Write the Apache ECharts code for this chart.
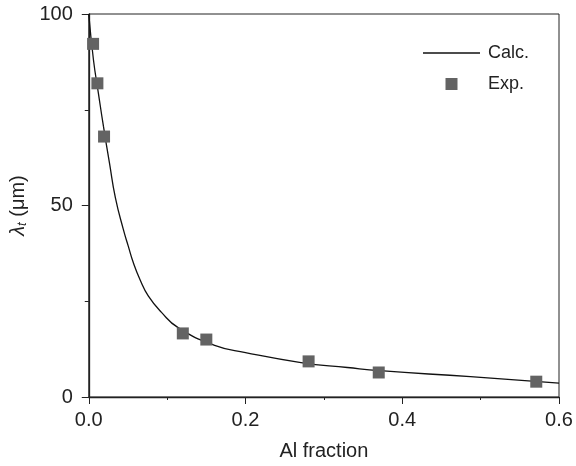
<!DOCTYPE html>
<html>
<head>
<meta charset="utf-8">
<script src="https://cdn.jsdelivr.net/npm/echarts@6/dist/echarts.min.js"></script>
<style>html,body{margin:0;padding:0;background:#fff}#c{width:576px;height:466px}</style>
</head>
<body>
<div id="c"></div>
<script>
var calcX = [0, 0.006, 0.0123, 0.0187, 0.0265, 0.034, 0.0441, 0.0504, 0.0568, 0.0653, 0.0759, 0.0928, 0.114, 0.1606, 0.2, 0.2708, 0.33, 0.3716, 0.487, 0.6];
var calcY = [100, 88.0, 79.3, 70.7, 61.0, 52.0, 43.75, 39.4, 35.1, 30.7, 26.4, 22.1, 18.1, 13.5, 11.6, 9.0, 7.7, 6.86, 5.3, 3.6];
var expX = [0.0055, 0.011, 0.0195, 0.120, 0.150, 0.2805, 0.370, 0.571];
var expY = [92.2, 81.9, 68.0, 16.6, 15.0, 9.3, 6.4, 4.0];
var xTicks = [0, 0.2, 0.4, 0.6];
var yTicks = [0, 50, 100];

function pairs(a, b) { return a.map(function (v, i) { return [v, b[i]]; }); }

var font = 'Liberation Sans, Arial, sans-serif';
var axisCol = '#222';
var chart = echarts.init(document.getElementById('c'));
chart.setOption({
  animation: false,
  grid: { left: 87, right: 17, top: 14, bottom: 68, show: true, borderColor: axisCol, borderWidth: 1 },
  legend: {
    left: 418, top: 39, orient: 'vertical', itemWidth: 57, itemHeight: 12, itemGap: 13,
    textStyle: { fontFamily: font, fontSize: 18, color: '#222', padding: [0, 0, 0, 3] },
    data: [
      { name: 'Calc.', icon: 'path://M0,0 H57 V1.3 H0 Z' },
      { name: 'Exp.', icon: 'path://M0,0 H12 V12 H0 Z' }
    ]
  },
  xAxis: {
    type: 'value', min: xTicks[0], max: xTicks[xTicks.length - 1], interval: 0.2,
    name: 'Al fraction', nameLocation: 'middle', nameGap: 44,
    nameTextStyle: { fontFamily: font, fontSize: 20, color: '#222' },
    axisLine: { lineStyle: { color: axisCol, width: 1.3 } },
    axisTick: { inside: false, length: 7, lineStyle: { color: axisCol } },
    minorTick: { show: true, splitNumber: 2, length: 3, lineStyle: { color: axisCol } },
    splitLine: { show: false },
    axisLabel: { fontFamily: font, fontSize: 20, color: '#222', margin: 13, formatter: function (v) { return v.toFixed(1); } }
  },
  yAxis: {
    type: 'value', min: yTicks[0], max: yTicks[yTicks.length - 1], interval: 50,
    name: '{l|λ}{s|t} (μm)', nameLocation: 'middle', nameGap: 59, nameRotate: 90,
    nameTextStyle: { fontFamily: font, fontSize: 20, color: '#222',
      rich: { l: { fontFamily: font, fontSize: 20, fontStyle: 'italic', color: '#222' },
              s: { fontFamily: font, fontSize: 13, fontStyle: 'italic', color: '#222', verticalAlign: 'bottom', padding: [8, 0, 0, 0] } } },
    axisLine: { lineStyle: { color: axisCol, width: 1.3 } },
    axisTick: { inside: false, length: 7, lineStyle: { color: axisCol } },
    minorTick: { show: true, splitNumber: 2, length: 4, lineStyle: { color: axisCol } },
    splitLine: { show: false },
    axisLabel: { fontFamily: font, fontSize: 20, color: '#222', margin: 16 }
  },
  series: [
    { name: 'Calc.', type: 'line', data: pairs(calcX, calcY), symbol: 'none', smooth: 0.5,
      lineStyle: { color: '#111', width: 1.3 }, itemStyle: { color: '#111' }, z: 2 },
    { name: 'Exp.', type: 'scatter', data: pairs(expX, expY), symbol: 'rect', symbolSize: 12,
      itemStyle: { color: '#636363', opacity: 1 }, z: 3 }
  ]
});
</script>
</body>
</html>
